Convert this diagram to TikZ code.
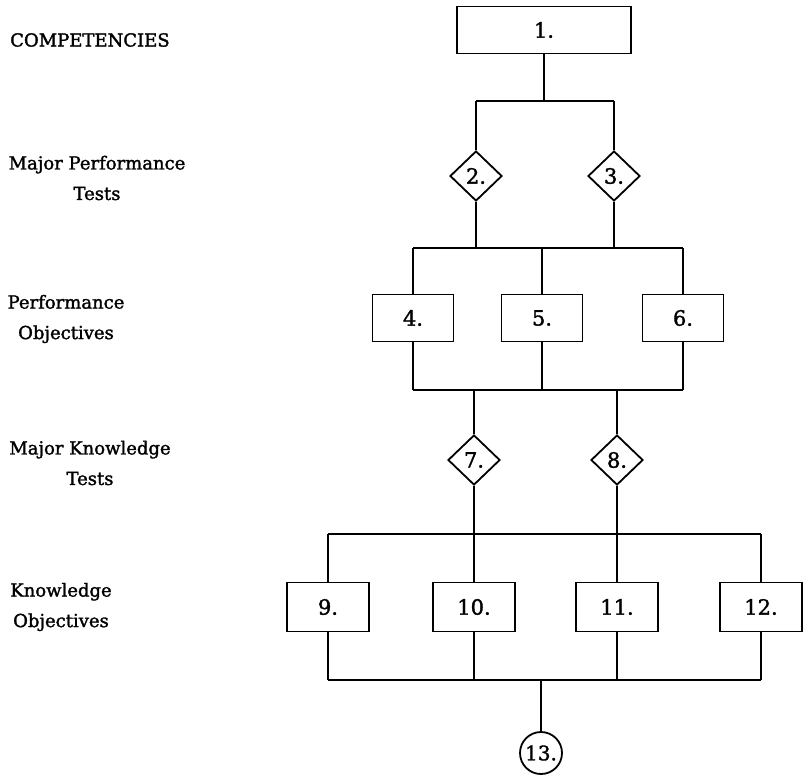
\documentclass[tikz,border=0pt]{standalone}
\usepackage{fontspec}
\setmainfont{DejaVu Serif}[FakeBold=1.6]
\usepackage{tikz}
\usetikzlibrary{shapes.geometric,positioning,calc}

\begin{document}
\begin{tikzpicture}[x=1pt,y=-1pt,
	line width=1.8pt,
	lbl/.style={align=center,font=\fontsize{18}{30.5}\selectfont},
	box/.style={draw,rectangle,minimum width=81pt,minimum height=47pt,inner sep=0pt,font=\fontsize{21}{24}\selectfont},
	test/.style={draw,diamond,minimum width=52pt,minimum height=50pt,inner sep=0pt,font=\fontsize{21}{24}\selectfont},
	final/.style={draw,circle,minimum size=42pt,inner sep=0pt,font=\fontsize{20}{24}\selectfont}]
	\useasboundingbox (0,0) rectangle (805,777);
	% row labels
	\node [lbl,anchor=west] (lcomp) at (6,40) {COMPETENCIES};
	\node [lbl] (lmpt) at (97,178) {Major Performance\\Tests};
	\node [lbl] (lpo) at (66,319) {Performance\\Objectives};
	\node [lbl] (lmkt) at (90,463) {Major Knowledge\\Tests};
	\node [lbl] (lko) at (61,607) {Knowledge\\Objectives};
	% competency
	\node [box,minimum width=174pt] (b1) at (544,30) {1.};
	\node [test] (d2) at (476,176) {2.};
	\node [test] (d3) at (614,176) {3.};
	\node [box] (b4) at (413,318) {4.};
	\node [box] (b5) at (542,318) {5.};
	\node [box] (b6) at (683,318) {6.};
	\node [test] (d7) at (474,460) {7.};
	\node [test] (d8) at (617,460) {8.};
	\node [box,minimum width=82pt,minimum height=49pt] (b9) at (328,607) {9.};
	\node [box,minimum width=82pt,minimum height=49pt] (b10) at (474,607) {10.};
	\node [box,minimum width=82pt,minimum height=49pt] (b11) at (617,607) {11.};
	\node [box,minimum width=82pt,minimum height=49pt] (b12) at (761,607) {12.};
	\node [final] (c13) at (541,753) {13.};
	% buses
	\coordinate (pt-l) at (476,101);
	\coordinate (pt-r) at (614,101);
	\coordinate (po-l) at (413,248);
	\coordinate (po-r) at (683,248);
	\coordinate (pb-l) at (413,390);
	\coordinate (pb-r) at (683,390);
	\coordinate (kt-l) at (328,534);
	\coordinate (kt-r) at (761,534);
	\coordinate (kb-l) at (328,680);
	\coordinate (kb-r) at (761,680);
	\draw (pt-l) -- (pt-r);
	\draw (b1) -- (b1 |- pt-l);
	\draw (pt-l) -- (d2);
	\draw (pt-r) -- (d3);
	\draw (po-l) -- (po-r);
	\draw (d2) -- (d2 |- po-l);
	\draw (d3) -- (d3 |- po-l);
	\draw (po-l) -- (b4);
	\draw (b5 |- po-l) -- (b5);
	\draw (po-r) -- (b6);
	\draw (pb-l) -- (pb-r);
	\draw (b4) -- (pb-l);
	\draw (b5) -- (b5 |- pb-l);
	\draw (b6) -- (pb-r);
	\draw (d7 |- pb-l) -- (d7);
	\draw (d8 |- pb-l) -- (d8);
	\draw (kt-l) -- (kt-r);
	\draw (d7) -- (b10);
	\draw (d8) -- (b11);
	\draw (kt-l) -- (b9);
	\draw (kt-r) -- (b12);
	\draw (kb-l) -- (kb-r);
	\draw (b9) -- (kb-l);
	\draw (b10) -- (b10 |- kb-l);
	\draw (b11) -- (b11 |- kb-l);
	\draw (b12) -- (kb-r);
	\draw (c13 |- kb-l) -- (c13);
\end{tikzpicture}
\end{document}
